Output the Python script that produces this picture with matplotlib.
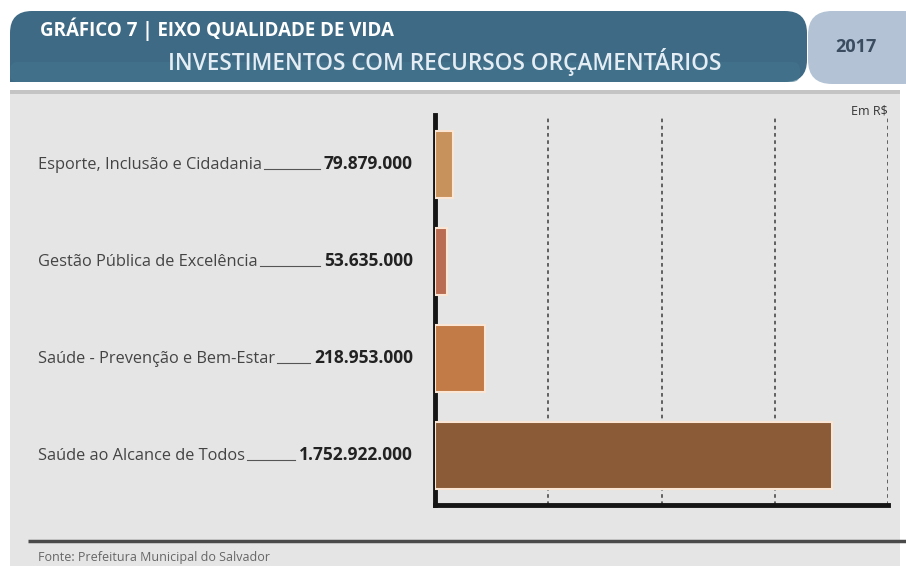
import matplotlib
matplotlib.use("Agg")
import matplotlib.pyplot as plt
from matplotlib.patches import FancyBboxPatch, Rectangle
from matplotlib import transforms

plt.rcParams['font.family'] = ['Open Sans', 'DejaVu Sans']

# dados (R$)
categorias = ['Esporte, Inclusão e Cidadania',
              'Gestão Pública de Excelência',
              'Saúde - Prevenção e Bem-Estar',
              'Saúde ao Alcance de Todos']
valores = [79879000, 53635000, 218953000, 1752922000]
rotulos = ['79.879.000', '53.635.000', '218.953.000', '1.752.922.000']
cores = ['#c8925c', '#b96c52', '#c27a46', '#8a5b36']
grade = [500e6, 1000e6, 1500e6, 2000e6]

titulo1 = 'GRÁFICO 7 | EIXO QUALIDADE DE VIDA'
titulo2 = 'INVESTIMENTOS COM RECURSOS ORÇAMENTÁRIOS'
ano = '2017'
fonte = 'Fonte: Prefeitura Municipal do Salvador'

W, H = 906, 566
fig = plt.figure(figsize=(W / 100, H / 100), dpi=100)
fig.patch.set_facecolor('white')

# fundo em coordenadas de pixel
bg = fig.add_axes([0, 0, 1, 1], zorder=0)
bg.set_xlim(0, W)
bg.set_ylim(H, 0)
bg.axis('off')

# painel cinza
bg.add_patch(Rectangle((10, 90), 890, 480, facecolor='#e5e5e5', edgecolor='none'))
bg.add_patch(Rectangle((10, 90), 890, 4, facecolor='#c4c4c4', edgecolor='none'))

# faixa do título
bg.add_patch(FancyBboxPatch((10, 11), 797, 71, boxstyle='round,pad=0,rounding_size=22',
                            facecolor='#3e6a85', edgecolor='none'))
bg.add_patch(Rectangle((10, 50), 40, 32, facecolor='#3e6a85', edgecolor='none'))
bg.add_patch(FancyBboxPatch((10, 62), 790, 20, boxstyle='round,pad=0,rounding_size=8',
                            facecolor='#43758e', edgecolor='none', alpha=0.6))
bg.add_patch(FancyBboxPatch((808, 11), 120, 73, boxstyle='round,pad=0,rounding_size=24',
                            facecolor='#b3c3d5', edgecolor='none'))

bg.text(40, 29, titulo1, color='white', fontsize=13.5, fontweight='bold', va='center')
bg.text(168, 62, titulo2, color='#e4edf3', fontsize=16.3, fontweight='semibold', va='center')
bg.text(856, 47, ano, color='#3b4b60', fontsize=13, fontweight='bold', va='center', ha='center')
bg.text(888, 111, 'Em R$', color='#333333', fontsize=9, va='center', ha='right')

# rodapé
bg.plot([28, W], [541, 541], color='#4a4a4a', lw=2.5, solid_capstyle='butt')
bg.text(38, 557, fonte, color='#666666', fontsize=9, va='center')

# gráfico
ax = fig.add_axes([435 / W, (H - 505) / H, 453 / W, 390 / H], zorder=1)
ax.patch.set_alpha(0)
ypos = list(range(len(categorias)))
ax.barh(ypos, valores, height=0.69, color=cores, edgecolor='#fbe5d4', linewidth=1.5, zorder=3)
ax.set_xlim(0, 2000e6)
ax.set_ylim(3.51, -0.505)
ax.set_xticks(grade)
ax.set_yticks([])
ax.tick_params(axis='x', length=0, labelbottom=False)
ax.grid(axis='x', color='#555555', linestyle=(0, (2, 2)), linewidth=1.3, zorder=1)
for s in ['top', 'right']:
    ax.spines[s].set_visible(False)
ax.spines['left'].set_linewidth(3.5)
ax.spines['bottom'].set_linewidth(3.5)
ax.spines['left'].set_color('#151515')
ax.spines['bottom'].set_color('#151515')

trans_nome = transforms.blended_transform_factory(fig.transFigure, ax.transData)
textos = []
for y, nome, rot in zip(ypos, categorias, rotulos):
    tv = ax.text(-0.0486, y + 0.05, rot, transform=ax.get_yaxis_transform(), ha='right',
                 va='baseline', fontsize=12.5, fontweight='bold', color='#222222')
    tn = ax.text(38 / W, y + 0.05, nome, transform=trans_nome, ha='left',
                 va='baseline', fontsize=11.8, color='#444444')
    textos.append((tn, tv, y))

# linhas de guia entre nome e valor
fig.canvas.draw()
r = fig.canvas.get_renderer()
inv = bg.transData.inverted()
for tn, tv, y in textos:
    bn = tn.get_window_extent(r)
    bv = tv.get_window_extent(r)
    yb = ax.transData.transform((0, y + 0.05))[1]
    p0 = inv.transform((bn.x1 + 2, yb))
    p1 = inv.transform((bv.x0 - 4, yb))
    bg.plot([p0[0], p1[0]], [p0[1], p0[1]], color='#555555', lw=0.8)

fig.savefig('out.png', dpi=100)
